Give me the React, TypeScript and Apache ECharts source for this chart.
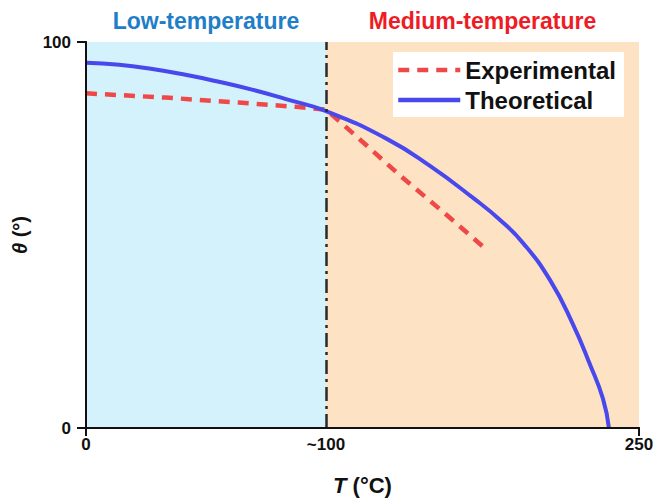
import React, { useEffect, useRef } from 'react';
import * as echarts from 'echarts';

// ---- data ----
const X_MIN = 0;
const X_MAX = 250;
const Y_MIN = 0;
const Y_MAX = 100;
const DIVIDER_X = 108.5;
const DIVIDER_LABEL = '~100';
const REGION_NAMES = ['Low-temperature', 'Medium-temperature'];
const SERIES_NAMES = ['Experimental', 'Theoretical'];

const experimentalT = [0, 36, 69, 95, 108.5, 121, 142, 162, 181.5];
const experimentalTheta = [86.7, 85.6, 84.3, 83.2, 82.5, 76.2, 65.4, 55.7, 46.0];

const theoreticalT = [0, 15, 30, 45, 60, 75.5, 90.4, 108.5, 136, 155.5, 175, 187.2, 197.6, 209.8, 220.2, 227.8, 233.7, 236.4];
const theoreticalTheta = [94.6, 94.1, 93.0, 91.5, 89.7, 87.6, 85.2, 82.1, 74.9, 67.9, 59.6, 53.9, 47.9, 38.3, 26.8, 16.5, 7.6, 0];

// ---- layout ----
const W = 657;
const H = 501;
const GRID = { left: 86, right: 18, top: 42, bottom: 73 };
const FONT = 'Liberation Sans, Arial, Helvetica, sans-serif';
const RED = '#ef4848';
const BLUE = '#4848ec';

const pairs = (xs: number[], ys: number[]) => xs.map((x, i) => [x, ys[i]]);

export default function App() {
  const ref = useRef<HTMLDivElement>(null);

  useEffect(() => {
    if (!ref.current) return;
    const chart = echarts.init(ref.current, undefined, { renderer: 'svg' });
    const plotW = W - GRID.left - GRID.right;
    const xPix = (v: number) => GRID.left + ((v - X_MIN) / (X_MAX - X_MIN)) * plotW;

    const axisBase = {
      type: 'value' as const,
      z: 10,
      axisLine: { show: true, lineStyle: { color: '#111', width: 2 } },
      splitLine: { show: false },
    };

    chart.setOption({
      animation: false,
      backgroundColor: '#ffffff',
      textStyle: { fontFamily: FONT },
      grid: { ...GRID, containLabel: false },
      legend: {
        orient: 'vertical',
        left: 393,
        top: 52,
        backgroundColor: '#ffffff',
        padding: [6, 8, 5, 3],
        itemGap: 6,
        itemWidth: 62,
        itemHeight: 20,
        itemStyle: { color: 'rgba(0,0,0,0)', borderColor: 'rgba(0,0,0,0)', borderWidth: 0 },
        data: [
          { name: SERIES_NAMES[0], lineStyle: { color: RED, width: 4.5, type: [11, 8] } },
          { name: SERIES_NAMES[1], lineStyle: { color: BLUE, width: 4.5, type: 'solid' } },
        ],
        textStyle: { fontFamily: FONT, fontSize: 24, fontWeight: 'bold', color: '#111' },
      },
      graphic: [
        {
          type: 'text',
          x: (xPix(X_MIN) + xPix(DIVIDER_X)) / 2,
          y: 21,
          style: {
            text: REGION_NAMES[0],
            fill: '#1f7ec8',
            font: `bold 23px ${FONT}`,
            textAlign: 'center',
            textVerticalAlign: 'middle',
          },
        },
        {
          type: 'text',
          x: (xPix(DIVIDER_X) + xPix(X_MAX)) / 2,
          y: 21,
          style: {
            text: REGION_NAMES[1],
            fill: '#ee1c25',
            font: `bold 23px ${FONT}`,
            textAlign: 'center',
            textVerticalAlign: 'middle',
          },
        },
      ],
      xAxis: [
        {
          ...axisBase,
          position: 'bottom',
          min: X_MIN,
          max: X_MAX,
          interval: X_MAX - X_MIN,
          axisTick: { show: true, inside: false, length: 8, lineStyle: { color: '#111', width: 2 } },
          axisLabel: { fontFamily: FONT, fontSize: 17, fontWeight: 'bold', color: '#111', margin: 8 },
          name: '{i|T} (°C)',
          nameLocation: 'middle',
          nameGap: 46,
          nameTextStyle: {
            fontFamily: FONT,
            fontSize: 22,
            fontWeight: 'bold',
            color: '#111',
            rich: { i: { fontFamily: FONT, fontSize: 22, fontWeight: 'bold', fontStyle: 'italic', color: '#111' } },
          },
        },
        {
          ...axisBase,
          position: 'top',
          min: X_MIN,
          max: X_MAX,
          axisTick: { show: false },
          axisLabel: { show: false },
        },
      ],
      yAxis: [
        {
          ...axisBase,
          position: 'left',
          min: Y_MIN,
          max: Y_MAX,
          interval: Y_MAX - Y_MIN,
          axisTick: { show: true, inside: false, length: 9, lineStyle: { color: '#111', width: 2 } },
          axisLabel: { fontFamily: FONT, fontSize: 17, fontWeight: 'bold', color: '#111', margin: 15 },
          name: '{i|θ} (°)',
          nameLocation: 'middle',
          nameGap: 56,
          nameRotate: 90,
          nameTextStyle: {
            fontFamily: FONT,
            fontSize: 20,
            fontWeight: 'bold',
            color: '#111',
            rich: { i: { fontFamily: FONT, fontSize: 20, fontWeight: 'bold', fontStyle: 'italic', color: '#111' } },
          },
        },
        {
          ...axisBase,
          position: 'right',
          min: Y_MIN,
          max: Y_MAX,
          axisTick: { show: false },
          axisLabel: { show: false },
        },
      ],
      series: [
        {
          name: SERIES_NAMES[0],
          type: 'line',
          data: pairs(experimentalT, experimentalTheta),
          symbol: 'none',
          smooth: false,
          z: 3,
          lineStyle: { color: RED, width: 4.5, type: [11, 8] },
          itemStyle: { color: RED },
          markArea: {
            silent: true,
            data: [
              [{ xAxis: X_MIN, itemStyle: { color: '#d4f2fc' } }, { xAxis: DIVIDER_X }],
              [{ xAxis: DIVIDER_X, itemStyle: { color: '#fde3c4' } }, { xAxis: X_MAX }],
            ],
          },
        },
        {
          name: SERIES_NAMES[1],
          type: 'line',
          data: pairs(theoreticalT, theoreticalTheta),
          symbol: 'none',
          smooth: 0.5,
          z: 4,
          lineStyle: { color: BLUE, width: 4 },
          itemStyle: { color: BLUE },
          markLine: {
            silent: true,
            symbol: 'none',
            lineStyle: { color: '#2a2a2a', width: 2.5, type: [14, 5, 3, 5] },
            label: {
              show: true,
              position: 'start',
              formatter: DIVIDER_LABEL,
              distance: 8,
              fontFamily: FONT,
              fontSize: 17,
              fontWeight: 'bold',
              color: '#111',
            },
            data: [{ xAxis: DIVIDER_X }],
          },
        },
      ],
    });

    return () => chart.dispose();
  }, []);

  return (
    <div
      ref={ref}
      style={{ position: 'fixed', left: 0, top: 0, width: W, height: H, background: '#fff' }}
    />
  );
}
